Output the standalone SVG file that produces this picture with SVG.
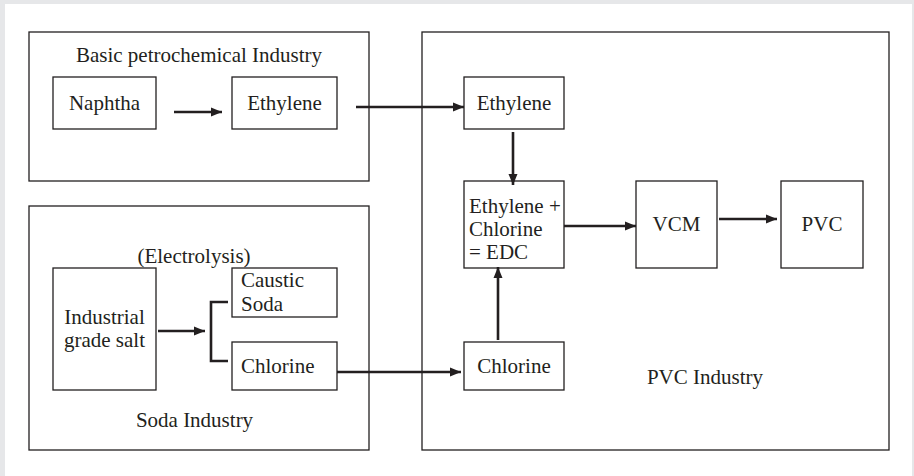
<svg xmlns="http://www.w3.org/2000/svg" width="914" height="476" viewBox="0 0 914 476">
<style>
.box{fill:none;stroke:#231f20;stroke-width:1.3}
.t{font-family:"Liberation Serif",serif;font-size:21px;fill:#231f20}
.c{text-anchor:middle}
.ar{fill:none;stroke:#231f20;stroke-width:2.6}
</style>
<defs>
<marker id="ah" markerWidth="11" markerHeight="11" viewBox="0 0 11 11" refX="11" refY="5.5" orient="auto" markerUnits="userSpaceOnUse">
<path d="M0,1 L11,5.5 L0,10 Z" fill="#231f20"/>
</marker>
</defs>
<rect x="0" y="0" width="914" height="476" fill="#e6e7e9"/>
<rect x="5" y="4" width="907" height="472" fill="#ffffff"/>

<g id="petro-industry">
<rect class="box" x="29" y="32" width="340" height="149"/>
<text class="t c" x="199" y="62">Basic petrochemical Industry</text>
</g>
<g id="naphtha">
<rect class="box" x="53" y="77" width="103" height="52"/>
<text class="t c" x="104.5" y="110">Naphtha</text>
</g>
<g id="ethylene-petro">
<rect class="box" x="232" y="77" width="105" height="52"/>
<text class="t c" x="284.5" y="110">Ethylene</text>
</g>

<g id="soda-industry">
<rect class="box" x="29" y="206" width="340" height="244"/>
<text class="t c" x="194" y="263">(Electrolysis)</text>
<text class="t c" x="194.5" y="427">Soda Industry</text>
</g>
<g id="salt">
<rect class="box" x="53" y="268" width="103" height="122"/>
<text class="t c" x="104.5" y="324">Industrial</text>
<text class="t c" x="104.5" y="347">grade salt</text>
</g>
<g id="caustic-soda">
<rect class="box" x="232" y="268" width="105" height="49"/>
<text class="t" x="241" y="287">Caustic</text>
<text class="t" x="241" y="311">Soda</text>
</g>
<g id="chlorine-soda">
<rect class="box" x="232" y="342" width="105" height="48"/>
<text class="t" x="241" y="373">Chlorine</text>
</g>

<g id="pvc-industry">
<rect class="box" x="422" y="32" width="467" height="418"/>
<text class="t c" x="705" y="384">PVC Industry</text>
</g>
<g id="ethylene-pvc">
<rect class="box" x="464" y="77" width="100" height="52"/>
<text class="t c" x="514" y="110">Ethylene</text>
</g>
<g id="edc">
<rect class="box" x="464" y="181" width="100" height="87"/>
<text class="t" x="469" y="213">Ethylene +</text>
<text class="t" x="469" y="236">Chlorine</text>
<text class="t" x="469" y="259">= EDC</text>
</g>
<g id="vcm">
<rect class="box" x="636" y="181" width="81" height="87"/>
<text class="t c" x="676.5" y="231">VCM</text>
</g>
<g id="pvc">
<rect class="box" x="781" y="181" width="82" height="87"/>
<text class="t c" x="822" y="231">PVC</text>
</g>
<g id="chlorine-pvc">
<rect class="box" x="464" y="342" width="100" height="48"/>
<text class="t c" x="514" y="373">Chlorine</text>
</g>

<g id="connectors">
<line class="ar" x1="174" y1="112" x2="222" y2="112" marker-end="url(#ah)"/>
<line class="ar" x1="356" y1="107" x2="464" y2="107" marker-end="url(#ah)"/>
<line class="ar" x1="513" y1="132" x2="513" y2="185" marker-end="url(#ah)"/>
<line class="ar" x1="564" y1="226" x2="636" y2="226" marker-end="url(#ah)"/>
<line class="ar" x1="719" y1="219" x2="777" y2="219" marker-end="url(#ah)"/>
<line class="ar" x1="158" y1="331" x2="205" y2="331" marker-end="url(#ah)"/>
<path class="ar" d="M228,302 H211 V361 H228"/>
<line class="ar" x1="337" y1="372" x2="461" y2="372" marker-end="url(#ah)"/>
<line class="ar" x1="498" y1="340" x2="498" y2="267" marker-end="url(#ah)"/>
</g>
</svg>
